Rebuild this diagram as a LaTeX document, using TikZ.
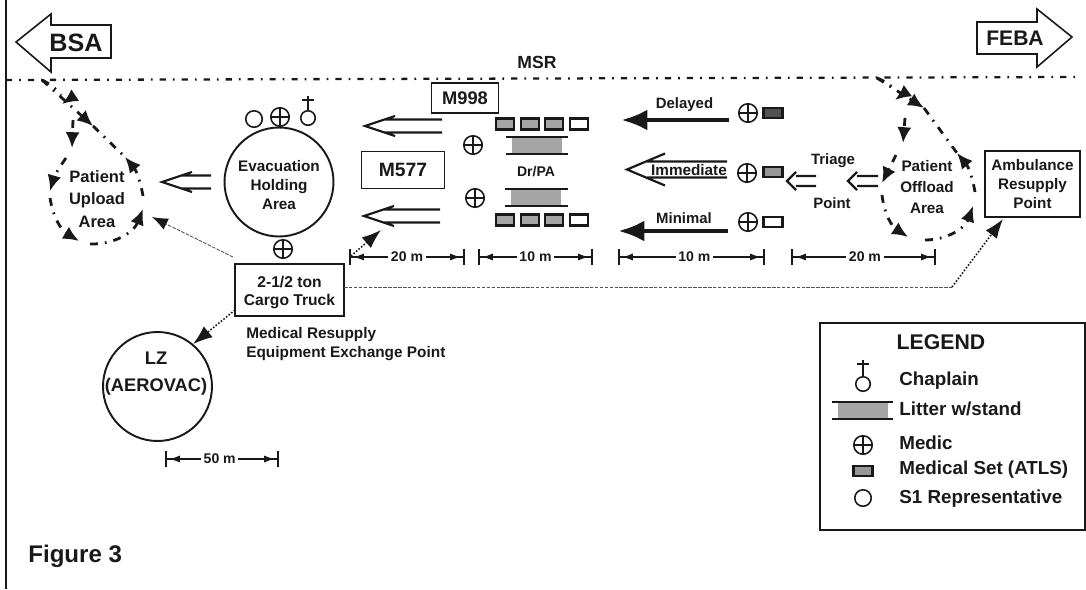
\documentclass[tikz,border=0pt]{standalone}
\usepackage{fontspec}
\setmainfont{Liberation Sans}
\usetikzlibrary{arrows.meta,positioning,calc}
\definecolor{InkBlack}{RGB}{25,25,25}
\definecolor{PadGray}{RGB}{165,165,165}
\tikzset{
  lbl/.style={inner sep=0pt,align=center,text=InkBlack,font=\fontsize{8}{11}\selectfont\bfseries},
  lanelbl/.style={lbl,font=\fontsize{8.5}{9}\selectfont\bfseries},
  boxnode/.style={lbl,draw=InkBlack,line width=1.1pt,inner sep=0pt},
  areacircle/.style={lbl,circle,draw=InkBlack,line width=1.1pt,minimum size=2.18cm},
  medic/.style={circle,draw=InkBlack,line width=0.9pt,minimum size=0.37cm,inner sep=0pt,
    path picture={\draw[InkBlack,line width=0.9pt]
      (path picture bounding box.north) -- (path picture bounding box.south)
      (path picture bounding box.west) -- (path picture bounding box.east);}},
  sone/.style={circle,draw=InkBlack,line width=0.9pt,minimum size=0.33cm,inner sep=0pt},
  chaplain/.style={circle,draw=InkBlack,line width=0.9pt,minimum size=0.29cm,inner sep=0pt},
  medset/.style={draw=InkBlack,line width=1.2pt,fill=PadGray,minimum width=0.36cm,minimum height=0.22cm,inner sep=0pt},
  setblank/.style={medset,fill=white},
  setsmall/.style={medset,minimum width=0.38cm,minimum height=0.19cm},
  litterpad/.style={fill=PadGray,minimum width=1cm,minimum height=0.33cm,inner sep=0pt},
  litterbar/.style={InkBlack,line width=1pt},
  hollow/.style n args={4}{InkBlack,line width=1.25pt,line join=miter,to path={
    ($(\tikztostart)+(0,-#1)$) -- ($(\tikztotarget)+(#2,-#1)$)
    ($(\tikztostart)+(0,#1)$) -- ($(\tikztotarget)+(#2,#1)$)
    ($(\tikztotarget)+(#3,-#4)$) -- (\tikztotarget) -- ($(\tikztotarget)+(#3,#4)$)}},
  solidarrow/.style={InkBlack,line width=2.8pt,-{Latex[length=15pt,width=12pt]}},
  teardash/.style={InkBlack,line width=1.6pt,dash pattern=on 4.5pt off 4pt on 1pt off 4pt},
  tearhead/.style={teardash,-{Latex[length=9pt,width=8pt]}},
  msrline/.style={InkBlack,line width=1.3pt,dash pattern=on 3.5pt off 4pt on 1pt off 4pt},
  dimline/.style={InkBlack,line width=0.8pt,
    {Bar[width=9pt,line width=0.9pt] Latex[length=6pt,width=4pt,sep=1.5pt]}-{Latex[length=6pt,width=4pt,sep=1.5pt] Bar[width=9pt,line width=0.9pt]}},
  dimlbl/.style={lbl,fill=white,inner xsep=1.5pt,inner ysep=1pt},
  dotlink/.style={InkBlack,line width=0.9pt,densely dotted,-{Latex[length=11pt,width=8pt]}},
  thinlink/.style={InkBlack!75,line width=0.5pt,dash pattern=on 2pt off 0.8pt},
  legendtxt/.style={lbl,anchor=west,font=\fontsize{10.7}{12}\selectfont\bfseries},
}
\begin{document}
\begin{tikzpicture}[x=0.02cm,y=-0.02cm]
\useasboundingbox (0,0) rectangle (1086,589);
\draw[InkBlack,line width=1.3pt] (6,0) -- (6,589);
% route arrows
\draw[InkBlack,line width=0.9pt,fill=white] (16,42) -- (51,14) -- (51,25) -- (111,25) -- (111,58)
    -- (51,58) -- (51,72) -- cycle;
\node[lbl,font=\fontsize{14.3}{14}\selectfont\bfseries] (bsa) at (76,43) {BSA};
\draw[InkBlack,line width=0.9pt,fill=white] (977,22) -- (1037,22) -- (1037,9) -- (1072,37)
    -- (1037,67) -- (1037,54) -- (977,54) -- cycle;
\node[lbl,font=\fontsize{12}{12}\selectfont\bfseries] (feba) at (1015,38) {FEBA};
\coordinate (msrwest) at (6,80);
\coordinate (msreast) at (1076,77);
\draw[msrline] (msrwest) -- (msreast);
\node[lbl,font=\fontsize{10}{10}\selectfont\bfseries] (msr) at (537,62) {MSR};
% upload area
\node[lbl,font=\fontsize{9.4}{12.8}\selectfont\bfseries] (upload) at (97,199) {Patient\\Upload\\Area};
\coordinate (ua) at (42,80);
\coordinate (ua2) at (61,95);
\coordinate (ua3) at (74,96);
\coordinate (ub) at (62,104);
\coordinate (uc) at (73,120);
\coordinate (ud) at (72,148);
\coordinate (ue) at (66,158);
\coordinate (uf) at (50,191);
\coordinate (ug) at (50,198);
\coordinate (uh) at (79,241);
\coordinate (ui) at (90,244);
\coordinate (uj) at (143,209);
\coordinate (uk) at (143,196);
\coordinate (ul) at (125,157);
\coordinate (um) at (93,126);
\draw[teardash] (ua) to[bend left=12] (ua2);
\draw[tearhead,solid] (ua3) -- (ub);
\draw[tearhead] (uc) -- (ud);
\draw[tearhead] (ue) to[bend right=10] (uf);
\draw[tearhead] (ug) to[bend right=25] (uh);
\draw[tearhead] (ui) to[bend right=35] (uj);
\draw[tearhead] (uk) to[bend right=15] (ul);
\draw[tearhead] (ua) -- (um);
\draw[teardash] (um) -- (ul);
% evacuation holding
\node[areacircle] (evac) at (279,182) {};
\node[lbl,font=\fontsize{8.7}{10.6}\selectfont\bfseries] (evactxt) at (279,185) {Evacuation\\Holding\\Area};
\node[sone] (evacsone) at (254,119) {};
\node[medic] (evacmedic) at (280,117) {};
\node[chaplain] (evacchap) at (308,118) {};
\draw[InkBlack,line width=0.9pt] (evacchap.north) -- ++(0,-14) coordinate (evacstem);
\draw[InkBlack,line width=0.9pt] ($(evacstem)+(-6,4)$) -- ($(evacstem)+(6,4)$);
\node[medic] (evacmedicb) at (283,249) {};
\coordinate (evacout) at (211,182);
\coordinate (uploadin) at (162,182);
\draw[hollow={6.5}{20}{30}{10}] (evacout) to (uploadin);
% vehicles
\node[boxnode,minimum width=1.34cm,minimum height=0.6cm,font=\fontsize{10.4}{10}\selectfont\bfseries] (meight) at (465,98) {M998};
\node[boxnode,minimum width=1.66cm,minimum height=0.74cm,font=\fontsize{11}{11}\selectfont\bfseries] (mfive) at (403,170) {M577};
\coordinate (topfrom) at (442,126);
\coordinate (topto) at (365,126);
\coordinate (lowfrom) at (440,216);
\coordinate (lowto) at (364,216);
\draw[hollow={6.5}{20}{30}{10}] (topfrom) to (topto);
\draw[hollow={6.5}{20}{30}{10}] (lowfrom) to (lowto);
% treatment
\node[medic] (drmedica) at (473,145) {};
\node[medic] (drmedicb) at (475,198) {};
\node[medset] (seta) at (505,124) {};
\node[medset,right=0.09cm of seta] (setb) {};
\node[medset,right=0.09cm of setb] (setc) {};
\node[setblank,right=0.09cm of setc] (setd) {};
\node[medset] (sete) at (505,220) {};
\node[medset,right=0.09cm of sete] (setf) {};
\node[medset,right=0.09cm of setf] (setg) {};
\node[setblank,right=0.09cm of setg] (seth) {};
\node[litterpad] (littera) at (537,145.5) {};
\draw[litterbar] ([xshift=-3pt]littera.north west) -- ([xshift=3pt]littera.north east);
\draw[litterbar] ([xshift=-3pt]littera.south west) -- ([xshift=3pt]littera.south east);
\node[litterpad] (litterb) at (536,197.5) {};
\draw[litterbar] ([xshift=-3pt]litterb.north west) -- ([xshift=4pt]litterb.north east);
\draw[litterbar] ([xshift=-3pt]litterb.south west) -- ([xshift=4pt]litterb.south east);
\node[lbl] (drpa) at (536,172) {Dr/PA};
% triage lanes
\coordinate (delfrom) at (729,120);
\coordinate (delto) at (621,120);
\draw[solidarrow] (delfrom) -- (delto);
\node[lanelbl] (delayed) at (684.5,105) {Delayed};
\node[medic] (delmedic) at (748,113) {};
\node[setsmall,fill=InkBlack!75] (delset) at (773,113) {};
\coordinate (immfrom) at (727,169.5);
\coordinate (immto) at (627,169.5);
\draw[hollow={8}{20}{38}{16}] (immfrom) to (immto);
\node[lanelbl,font=\fontsize{8.7}{9}\selectfont\bfseries] (immediate) at (689,170) {Immediate};
\node[medic] (immmedic) at (747,173) {};
\node[setsmall,fill=InkBlack!45] (immset) at (773,172) {};
\coordinate (minfrom) at (728,231);
\coordinate (minto) at (618,231);
\draw[solidarrow] (minfrom) -- (minto);
\node[lanelbl] (minimal) at (684,218) {Minimal};
\node[medic] (minmedic) at (748,222) {};
\node[setsmall,fill=white] (minset) at (773,222) {};
\node[lanelbl] (triage) at (833,161) {Triage};
\node[lanelbl] (tpoint) at (832,203) {Point};
\coordinate (triagefrom) at (816,181);
\coordinate (triageto) at (787,181);
\draw[hollow={5}{9}{9}{9}] (triagefrom) to (triageto);
\coordinate (offfrom) at (878,181);
\coordinate (offto) at (848,181);
\draw[hollow={5}{9}{9}{9}] (offfrom) to (offto);
% offload area
\node[lbl,font=\fontsize{8.7}{12}\selectfont\bfseries] (offload) at (927,187) {Patient\\Offload\\Area};
\coordinate (oa) at (877,78);
\coordinate (oa2) at (895,90);
\coordinate (oa3) at (906,92);
\coordinate (ob) at (895,100);
\coordinate (oc) at (905,118);
\coordinate (od) at (903,143);
\coordinate (oe) at (896,155);
\coordinate (of) at (882,183);
\coordinate (og) at (882,195);
\coordinate (oh) at (908,237);
\coordinate (oi) at (925,240);
\coordinate (oj) at (973,206);
\coordinate (ok) at (975,192);
\coordinate (ol) at (957,153);
\coordinate (om) at (924,108);
\draw[teardash] (oa) to[bend left=12] (oa2);
\draw[tearhead,solid] (oa3) -- (ob);
\draw[tearhead] (oc) -- (od);
\draw[tearhead] (oe) -- (of);
\draw[tearhead] (og) to[bend right=25] (oh);
\draw[tearhead] (oi) to[bend right=35] (oj);
\draw[tearhead] (ok) to[bend right=15] (ol);
\draw[tearhead] (oa) -- (om);
\draw[teardash] (om) -- (ol);
\node[boxnode,minimum width=1.9cm,minimum height=1.32cm,font=\fontsize{8.7}{11}\selectfont\bfseries] (ambul) at (1032.5,184) {Ambulance\\Resupply\\Point};
% truck
\node[boxnode,minimum width=2.18cm,minimum height=1.04cm,font=\fontsize{8.9}{10.4}\selectfont\bfseries] (truck) at (289.5,290) {\rule{0pt}{9pt}2-1/2 ton\\Cargo Truck};
\node[lbl,font=\fontsize{8.75}{11}\selectfont\bfseries,align=left,anchor=north west] (resupply) at (246,327) {Medical Resupply\\Equipment Exchange Point};
\node[areacircle] (lz) at (157.5,386.5) {};
\node[lbl,font=\fontsize{10.4}{15.4}\selectfont\bfseries] (lztxt) at (156,373.5) {LZ\\(AEROVAC)};
\coordinate (truckleft) at (233,257);
\coordinate (uploadtip) at (152,217);
\draw[thinlink,-{Latex[length=9pt,width=7pt,color=InkBlack]}] (truckleft) -- (uploadtip);
\coordinate (lowtip) at (381,230);
\draw[dotlink] (truck.north east) ++(6,-7) -- (lowtip);
\coordinate (truckwest) at (235,310);
\draw[dotlink] (truckwest) -- (lz.50);
\coordinate (truckeast) at (344,287);
\coordinate (bendpt) at (952,287);
\coordinate (ambultip) at (1003,219);
\draw[thinlink] (truckeast) -- (bendpt);
\draw[dotlink] (bendpt) -- (ambultip);
% distances
\coordinate (dima) at (349,257);
\coordinate (dimb) at (465,257);
\coordinate (dimc) at (478,257);
\coordinate (dimd) at (593,257);
\coordinate (dime) at (618,257);
\coordinate (dimf) at (765,257);
\coordinate (dimg) at (791,257);
\coordinate (dimh) at (936,257);
\coordinate (dimi) at (165,459);
\coordinate (dimj) at (279,459);
\draw[dimline] (dima) -- node[dimlbl] {20 m} (dimb);
\draw[dimline] (dimc) -- node[dimlbl] {10 m} (dimd);
\draw[dimline] (dime) -- node[dimlbl,pos=0.52] {10 m} (dimf);
\draw[dimline] (dimg) -- node[dimlbl,pos=0.51] {20 m} (dimh);
\draw[dimline] (dimi) -- node[dimlbl,pos=0.48] {50 m} (dimj);
% legend
\node[draw=InkBlack,line width=1.1pt,minimum width=5.3cm,minimum height=4.14cm,inner sep=0pt] (legend) at (952.5,426.5) {};
\node[lbl,font=\fontsize{12.1}{12}\selectfont\bfseries] (legendtitle) at (941,342) {LEGEND};
\node[chaplain] (keychap) at (863,384) {};
\draw[InkBlack,line width=0.9pt] (keychap.north) -- ++(0,-16) coordinate (keystem);
\draw[InkBlack,line width=0.9pt] ($(keystem)+(-6,4)$) -- ($(keystem)+(6,4)$);
\node[legendtxt] (keychaptxt) at (899,381) {Chaplain};
\node[litterpad] (keylitter) at (863,410.5) {};
\draw[litterbar] ([xshift=-3pt]keylitter.north west) -- ([xshift=2.5pt]keylitter.north east);
\draw[litterbar] ([xshift=-3pt]keylitter.south west) -- ([xshift=2.5pt]keylitter.south east);
\node[legendtxt] (keylittertxt) at (899,409) {Litter w/stand};
\node[medic] (keymedic) at (863,445) {};
\node[legendtxt] (keymedictxt) at (899,443) {Medic};
\node[setsmall,fill=InkBlack!45] (keyset) at (863,471) {};
\node[legendtxt] (keysettxt) at (899,470) {Medical Set (ATLS)};
\node[sone] (keysone) at (863,498) {};
\node[legendtxt] (keysonetxt) at (899,499) {S1 Representative};
\node[lbl,anchor=west,font=\fontsize{13.7}{14}\selectfont\bfseries] (figlabel) at (28,556) {Figure 3};
\end{tikzpicture}
\end{document}
